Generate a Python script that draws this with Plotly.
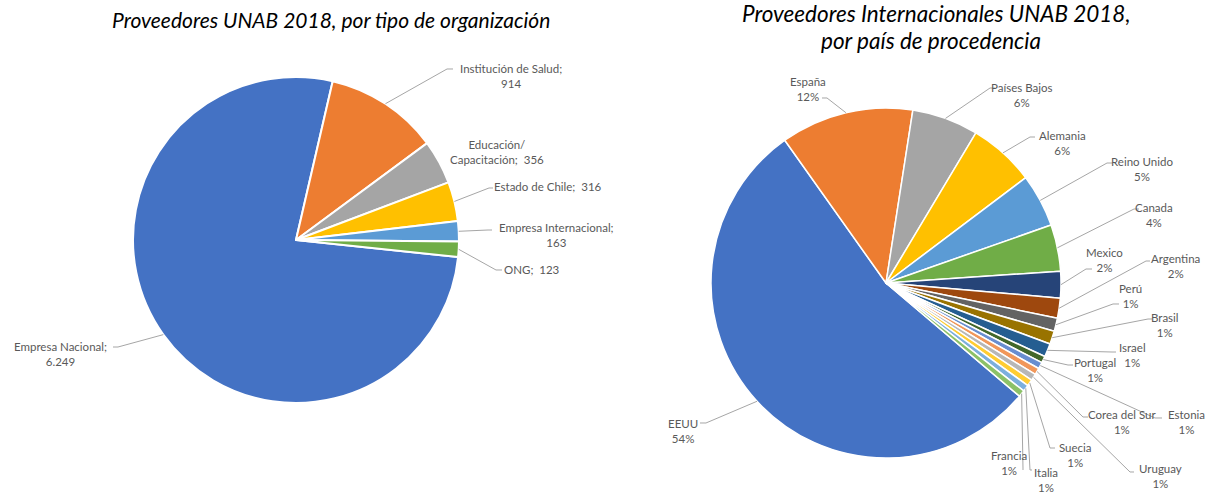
import math
import plotly.graph_objects as go

W, H = 1209, 496

# ---------------- data ----------------
org_labels = ["Empresa Nacional", "Institución de Salud", "Educación/<br>Capacitación",
              "Estado de Chile", "Empresa Internacional", "ONG"]
org_values = [6249, 914, 356, 316, 163, 123]
org_text = ["Empresa Nacional;<br>6.249", "Institución de Salud;<br>914",
            "Educación/<br>Capacitación;  356", "Estado de Chile;  316",
            "Empresa Internacional;<br>163", "ONG;  123"]

country_labels = ["EEUU", "España", "Países Bajos", "Alemania", "Reino Unido", "Canada",
                  "Mexico", "Argentina", "Perú", "Brasil", "Israel", "Portugal",
                  "Estonia", "Corea del Sur", "Uruguay", "Suecia", "Italia", "Francia"]
country_values = [88, 20, 10, 10, 8, 7, 4, 3, 2, 2, 2, 1, 1, 1, 1, 1, 1, 1]

title_left = "Proveedores UNAB 2018, por tipo de organización"
title_right_1 = "Proveedores Internacionales UNAB 2018,"
title_right_2 = "por país de procedencia"

# ---------------- style / layout ----------------
org_colors = ["#4472C4", "#ED7D31", "#A5A5A5", "#FFC000", "#5B9BD5", "#70AD47"]
country_colors = ["#4472C4", "#ED7D31", "#A5A5A5", "#FFC000", "#5B9BD5", "#70AD47",
                  "#264478", "#9E480E", "#636363", "#997300", "#255E91", "#43682B",
                  "#698ED0", "#F1975A", "#B7B7B7", "#FFCD33", "#7CAFDD", "#8CC168"]

LEFT_C, LEFT_R, LEFT_ROT = (296, 240), 163, 96
RIGHT_C, RIGHT_R, RIGHT_ROT = (886, 283), 175, 130.3

# label text centres (px) and leader elbow / end points (px)
left_lab_pos = [(60, 354), (511, 76), (497, 152), (548, 187), (556, 235), (532, 269)]
left_leader = [[(118, 347), (113, 347)], [(447, 69), (453, 69)], None,
               [(489, 188), (493, 188)], [(488, 230), (492, 230)], [(496, 270), (502, 270)]]

right_lab_pos = [(683, 431), (808, 89), (1022, 95), (1062, 143), (1142, 169), (1154, 215),
                 (1104, 260), (1175, 266), (1130, 296), (1165, 325), (1132, 355), (1095, 370),
                 (1186, 422), (1122, 422), (1160, 476), (1075, 455), (1046, 480), (1009, 463)]
right_leader = [[(706, 423), (700, 423)], [(827, 98), (822, 98)], [(990, 88), (995, 88)],
                [(1030, 137), (1035, 137)], [(1107, 163), (1112, 163)], [(1134, 209), (1139, 209)],
                [(1086, 269), (1092, 269)], [(1146, 261), (1150, 261)], [(1113, 304), (1119, 304)],
                [(1148, 319), (1152, 319)], [(1112, 352), (1116, 352)], [(1068, 365), (1073, 365)],
                [(1155, 418), (1162, 418)], [(1083, 417), (1088, 417)], [(1130, 472), (1134, 472)],
                [(1050, 448), (1055, 448)], [(1030, 470), (1032, 470)], [(1023, 468), (1023, 470)]]

FONT = "Lato"
LABEL_SIZE = 11.5
LABEL_COLOR = "#595959"
LEADER_COLOR = "#A6A6A6"


def px(x, y):
    return x / W, 1 - y / H


def domain(c, r):
    return dict(x=[(c[0] - r) / W, (c[0] + r) / W], y=[1 - (c[1] + r) / H, 1 - (c[1] - r) / H])


def edge_points(values, center, radius, rotation):
    total = sum(values)
    pts = []
    a = rotation
    for v in values:
        span = 360.0 * v / total
        mid = math.radians(a + span / 2)
        pts.append((center[0] + radius * math.sin(mid), center[1] - radius * math.cos(mid)))
        a += span
    return pts


fig = go.Figure()
fig.add_trace(go.Pie(labels=org_labels, values=org_values, sort=False, direction="clockwise",
                     rotation=LEFT_ROT, marker=dict(colors=org_colors, line=dict(color="white", width=2)),
                     textinfo="none", hoverinfo="label+value", domain=domain(LEFT_C, LEFT_R),
                     showlegend=False))
fig.add_trace(go.Pie(labels=country_labels, values=country_values, sort=False, direction="clockwise",
                     rotation=RIGHT_ROT, marker=dict(colors=country_colors, line=dict(color="white", width=1.5)),
                     textinfo="none", hoverinfo="label+percent", domain=domain(RIGHT_C, RIGHT_R),
                     showlegend=False))

annotations = []
shapes = []


def add_labels(texts, positions, leaders, edges):
    for t, p, ld, e in zip(texts, positions, leaders, edges):
        x, y = px(*p)
        annotations.append(dict(x=x, y=y, xref="paper", yref="paper", text=t, showarrow=False,
                                xanchor="center", yanchor="middle", align="center",
                                font=dict(family=FONT, size=LABEL_SIZE, color=LABEL_COLOR)))
        if ld:
            pts = [e] + ld
            path = "M " + " L ".join(f"{px(a, b)[0]:.5f},{px(a, b)[1]:.5f}" for a, b in pts)
            shapes.append(dict(type="path", path=path, xref="paper", yref="paper",
                               line=dict(color=LEADER_COLOR, width=1)))


add_labels(org_text, left_lab_pos, left_leader, edge_points(org_values, LEFT_C, LEFT_R, LEFT_ROT))
total_c = sum(country_values)
country_text = [f"{l}<br>{round(100 * v / total_c)}%" for l, v in zip(country_labels, country_values)]
add_labels(country_text, right_lab_pos, right_leader,
           edge_points(country_values, RIGHT_C, RIGHT_R, RIGHT_ROT))

for t, p, s in [(title_left, (331, 20), 21), (title_right_1, (936, 14), 22.5),
                (title_right_2, (931, 41), 22.5)]:
    x, y = px(*p)
    annotations.append(dict(x=x, y=y, xref="paper", yref="paper", text=t, showarrow=False,
                            xanchor="center", yanchor="middle",
                            font=dict(family=FONT, size=s, color="black", style="italic")))

fig.update_layout(width=W, height=H, margin=dict(l=0, r=0, t=0, b=0),
                  paper_bgcolor="white", plot_bgcolor="white",
                  annotations=annotations, shapes=shapes)

fig.write_html("out.html", config={"displayModeBar": False},
               post_script="document.body.style.margin='0px';document.body.style.overflow='hidden';")
